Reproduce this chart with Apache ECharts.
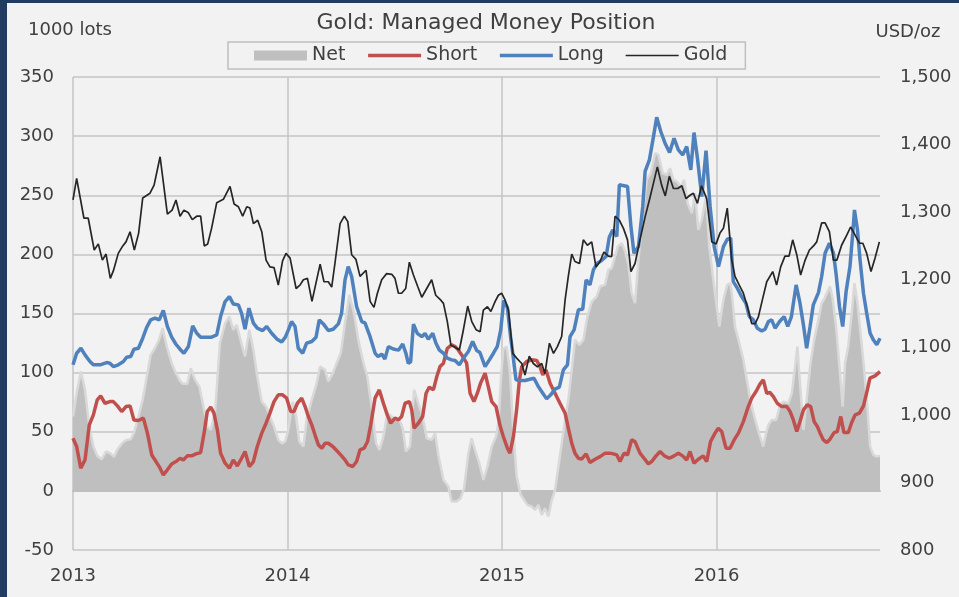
<!DOCTYPE html>
<html><head><meta charset="utf-8">
<script src="https://cdn.jsdelivr.net/npm/echarts@6/dist/echarts.min.js"></script>
<style>html,body{margin:0;padding:0;background:#f2f2f2}#c{width:959px;height:597px}</style>
</head><body><div id="c"></div><script>
// x = decimal year, value in 1000 lots (Net/Short/Long) or USD/oz (Gold)
const yearTicks = [2013, 2014, 2015, 2016];
const leftTicks = [-50, 0, 50, 100, 150, 200, 250, 300, 350];
const rightTicks = [800, 900, 1000, 1100, 1200, 1300, 1400, 1500];

const netData = [[2013.000,62.9],[2013.017,82.6],[2013.037,100.9],[2013.056,85.4],[2013.076,54.4],[2013.095,37.5],[2013.113,29.6],[2013.134,26.8],[2013.154,33.3],[2013.172,31.9],[2013.191,29.0],[2013.211,36.1],[2013.232,40.9],[2013.250,43.1],[2013.269,43.7],[2013.284,48.8],[2013.305,62.9],[2013.325,77.0],[2013.347,99.5],[2013.362,115.0],[2013.382,120.6],[2013.402,128.3],[2013.418,137.6],[2013.437,122.1],[2013.460,108.0],[2013.480,99.5],[2013.499,93.0],[2013.511,90.5],[2013.533,90.5],[2013.549,103.7],[2013.569,93.9],[2013.589,88.2],[2013.608,71.3],[2013.626,54.4],[2013.642,51.6],[2013.662,65.7],[2013.685,124.9],[2013.709,141.8],[2013.729,147.4],[2013.747,136.2],[2013.763,140.4],[2013.781,127.7],[2013.802,113.6],[2013.822,136.2],[2013.841,119.2],[2013.859,96.7],[2013.880,75.5],[2013.900,71.3],[2013.918,62.9],[2013.937,54.4],[2013.957,43.1],[2013.975,40.0],[2013.990,42.0],[2014.004,52.0],[2014.024,75.5],[2014.040,62.9],[2014.055,41.7],[2014.074,37.5],[2014.089,60.0],[2014.113,77.0],[2014.136,91.1],[2014.152,105.1],[2014.175,102.3],[2014.190,92.5],[2014.211,99.5],[2014.229,108.0],[2014.248,116.4],[2014.268,141.8],[2014.288,165.8],[2014.310,150.2],[2014.330,127.7],[2014.354,108.0],[2014.372,96.7],[2014.392,71.3],[2014.413,40.3],[2014.429,34.7],[2014.447,45.9],[2014.465,65.7],[2014.486,62.9],[2014.506,60.0],[2014.522,60.0],[2014.537,53.0],[2014.552,33.3],[2014.571,37.5],[2014.590,85.4],[2014.610,74.1],[2014.630,62.9],[2014.649,44.5],[2014.672,43.1],[2014.688,48.8],[2014.703,30.4],[2014.727,9.3],[2014.750,3.7],[2014.765,-9.0],[2014.789,-9.0],[2014.807,-6.2],[2014.823,2.3],[2014.843,31.9],[2014.858,44.5],[2014.874,34.7],[2014.894,23.4],[2014.913,9.3],[2014.932,20.6],[2014.952,37.5],[2014.972,45.9],[2014.985,60.0],[2014.995,95.0],[2015.006,120.0],[2015.022,122.0],[2015.037,100.0],[2015.053,48.8],[2015.068,12.1],[2015.087,-3.4],[2015.103,-7.6],[2015.118,-11.8],[2015.138,-13.2],[2015.154,-16.1],[2015.169,-11.8],[2015.185,-20.3],[2015.200,-14.7],[2015.216,-21.7],[2015.232,-7.6],[2015.247,0.8],[2015.263,20.6],[2015.278,40.3],[2015.294,60.0],[2015.309,77.0],[2015.325,102.3],[2015.340,127.7],[2015.361,123.5],[2015.379,127.7],[2015.398,147.4],[2015.418,160.1],[2015.441,164.3],[2015.457,172.8],[2015.480,174.2],[2015.496,186.9],[2015.511,188.3],[2015.527,198.2],[2015.540,206.6],[2015.558,209.4],[2015.574,202.4],[2015.589,191.1],[2015.604,167.2],[2015.620,158.7],[2015.636,195.4],[2015.656,234.8],[2015.675,263.0],[2015.693,268.6],[2015.714,285.6],[2015.729,284.1],[2015.749,268.6],[2015.768,267.2],[2015.783,272.9],[2015.799,263.0],[2015.815,261.6],[2015.834,257.4],[2015.849,263.0],[2015.865,243.3],[2015.885,234.8],[2015.900,251.7],[2015.915,220.7],[2015.931,229.2],[2015.951,248.9],[2015.966,206.6],[2015.985,178.4],[2016.001,155.9],[2016.013,139.0],[2016.032,161.5],[2016.050,174.2],[2016.063,175.6],[2016.071,167.2],[2016.086,139.0],[2016.106,124.9],[2016.125,110.8],[2016.141,93.9],[2016.159,75.5],[2016.180,60.0],[2016.200,47.4],[2016.218,37.5],[2016.231,48.8],[2016.242,55.8],[2016.257,60.0],[2016.278,60.0],[2016.294,71.3],[2016.312,75.5],[2016.335,74.1],[2016.351,82.6],[2016.366,105.1],[2016.377,122.1],[2016.389,91.1],[2016.405,51.6],[2016.420,77.0],[2016.436,105.1],[2016.455,127.7],[2016.475,144.6],[2016.490,158.7],[2016.500,161.5],[2016.514,167.2],[2016.529,172.8],[2016.541,162.9],[2016.557,139.0],[2016.573,105.1],[2016.588,71.3],[2016.599,108.0],[2016.614,122.1],[2016.630,150.2],[2016.643,175.6],[2016.657,158.7],[2016.671,133.3],[2016.687,105.1],[2016.703,71.3],[2016.716,37.5],[2016.731,30.4],[2016.747,29.0],[2016.762,29.6]];

const shortData = [[2013.000,44.5],[2013.017,37.5],[2013.036,19.2],[2013.056,26.2],[2013.076,55.8],[2013.095,64.3],[2013.113,77.0],[2013.129,80.3],[2013.149,74.1],[2013.172,75.5],[2013.188,75.5],[2013.207,71.9],[2013.227,67.1],[2013.247,71.3],[2013.266,71.9],[2013.284,60.0],[2013.305,59.5],[2013.328,61.5],[2013.347,48.8],[2013.367,30.4],[2013.387,24.8],[2013.406,19.2],[2013.421,13.5],[2013.440,17.8],[2013.460,22.8],[2013.480,24.8],[2013.499,27.6],[2013.514,26.2],[2013.533,29.6],[2013.553,29.6],[2013.573,31.3],[2013.595,32.4],[2013.611,48.8],[2013.626,67.1],[2013.642,70.8],[2013.657,65.7],[2013.673,51.6],[2013.688,31.9],[2013.709,23.4],[2013.729,19.2],[2013.747,26.2],[2013.766,21.1],[2013.786,27.6],[2013.802,33.3],[2013.822,20.6],[2013.841,24.8],[2013.859,37.5],[2013.880,48.8],[2013.900,57.2],[2013.918,65.7],[2013.937,75.5],[2013.957,81.2],[2013.977,81.2],[2013.996,78.4],[2014.015,67.1],[2014.030,67.1],[2014.046,74.1],[2014.066,78.4],[2014.082,71.3],[2014.097,62.9],[2014.113,55.8],[2014.128,47.4],[2014.144,38.9],[2014.160,36.1],[2014.175,40.3],[2014.190,40.3],[2014.211,37.5],[2014.229,34.1],[2014.248,30.4],[2014.268,26.2],[2014.283,22.0],[2014.304,20.6],[2014.322,24.8],[2014.338,34.7],[2014.357,36.1],[2014.373,41.7],[2014.388,55.8],[2014.408,78.4],[2014.428,85.4],[2014.447,74.1],[2014.465,64.3],[2014.481,57.2],[2014.501,61.5],[2014.517,60.0],[2014.532,62.9],[2014.548,74.1],[2014.568,75.5],[2014.579,68.5],[2014.590,53.0],[2014.610,57.2],[2014.630,62.9],[2014.646,82.6],[2014.661,87.7],[2014.680,85.4],[2014.696,96.7],[2014.711,105.1],[2014.727,108.0],[2014.745,120.6],[2014.765,123.5],[2014.781,122.1],[2014.796,119.2],[2014.812,115.0],[2014.835,108.0],[2014.851,82.6],[2014.869,75.5],[2014.885,82.6],[2014.900,91.1],[2014.921,99.5],[2014.936,88.2],[2014.952,75.5],[2014.972,71.3],[2014.991,55.0],[2015.006,46.0],[2015.025,36.1],[2015.037,31.9],[2015.053,45.9],[2015.068,68.5],[2015.081,93.9],[2015.092,105.1],[2015.115,109.4],[2015.138,110.8],[2015.162,110.2],[2015.177,105.1],[2015.190,98.1],[2015.205,102.3],[2015.224,91.1],[2015.247,82.6],[2015.270,74.1],[2015.294,65.7],[2015.309,53.0],[2015.325,40.3],[2015.340,31.9],[2015.356,27.6],[2015.371,26.8],[2015.392,31.3],[2015.410,24.0],[2015.434,26.8],[2015.457,29.0],[2015.481,31.9],[2015.504,31.9],[2015.519,31.3],[2015.535,30.4],[2015.550,24.8],[2015.569,31.9],[2015.585,30.4],[2015.604,43.1],[2015.620,41.7],[2015.643,31.9],[2015.662,27.6],[2015.682,22.8],[2015.698,24.8],[2015.718,29.6],[2015.737,33.3],[2015.757,29.6],[2015.780,27.6],[2015.802,29.6],[2015.822,31.9],[2015.842,29.6],[2015.861,26.2],[2015.876,33.3],[2015.895,23.4],[2015.915,26.8],[2015.938,29.6],[2015.954,24.8],[2015.972,41.7],[2015.993,48.8],[2016.008,53.0],[2016.024,50.2],[2016.044,36.1],[2016.063,36.1],[2016.082,43.1],[2016.102,48.8],[2016.125,58.6],[2016.148,71.3],[2016.164,78.4],[2016.184,84.0],[2016.203,90.5],[2016.218,93.9],[2016.234,82.6],[2016.249,83.2],[2016.265,79.8],[2016.283,74.1],[2016.304,71.3],[2016.327,71.3],[2016.343,67.1],[2016.358,60.0],[2016.374,50.2],[2016.389,58.6],[2016.405,68.5],[2016.423,72.7],[2016.439,71.3],[2016.455,58.6],[2016.470,54.4],[2016.483,48.8],[2016.498,43.1],[2016.514,40.9],[2016.529,43.7],[2016.548,49.3],[2016.563,50.2],[2016.579,62.9],[2016.594,49.3],[2016.614,49.3],[2016.630,57.8],[2016.646,64.3],[2016.666,65.7],[2016.685,71.9],[2016.703,85.4],[2016.715,95.3],[2016.739,97.3],[2016.762,100.9]];

const longData = [[2013.000,106.6],[2013.017,116.4],[2013.037,120.6],[2013.056,115.0],[2013.079,109.4],[2013.095,106.6],[2013.126,106.6],[2013.157,108.5],[2013.172,108.0],[2013.188,105.1],[2013.211,106.6],[2013.235,109.4],[2013.250,113.0],[2013.269,113.6],[2013.284,119.8],[2013.305,120.6],[2013.325,129.1],[2013.343,138.1],[2013.362,144.6],[2013.382,146.0],[2013.402,144.6],[2013.421,152.5],[2013.440,139.0],[2013.460,130.0],[2013.480,124.0],[2013.499,119.8],[2013.517,116.4],[2013.538,122.1],[2013.558,139.5],[2013.577,133.3],[2013.595,130.0],[2013.623,130.0],[2013.646,130.0],[2013.670,131.9],[2013.688,147.4],[2013.709,160.1],[2013.729,164.3],[2013.747,158.1],[2013.771,157.3],[2013.786,150.2],[2013.802,136.7],[2013.820,154.5],[2013.841,141.8],[2013.859,137.6],[2013.884,135.6],[2013.903,139.0],[2013.926,133.3],[2013.950,128.5],[2013.973,126.0],[2013.990,130.0],[2014.004,136.2],[2014.019,143.2],[2014.035,139.0],[2014.050,120.6],[2014.071,116.4],[2014.089,124.9],[2014.113,126.3],[2014.133,130.0],[2014.148,144.6],[2014.167,141.2],[2014.190,135.6],[2014.213,136.7],[2014.237,141.2],[2014.252,150.2],[2014.268,178.4],[2014.283,189.7],[2014.299,181.3],[2014.322,155.9],[2014.346,143.2],[2014.361,142.0],[2014.385,130.4],[2014.408,116.5],[2014.422,113.5],[2014.439,115.7],[2014.454,111.5],[2014.470,122.0],[2014.493,120.0],[2014.517,119.0],[2014.537,124.2],[2014.552,116.3],[2014.563,107.9],[2014.574,109.2],[2014.587,141.0],[2014.605,133.2],[2014.626,130.4],[2014.641,133.2],[2014.656,128.2],[2014.677,133.2],[2014.692,124.8],[2014.708,119.0],[2014.727,116.4],[2014.745,112.2],[2014.765,110.8],[2014.781,110.2],[2014.801,106.6],[2014.820,112.2],[2014.843,117.8],[2014.863,126.3],[2014.882,118.7],[2014.897,117.0],[2014.921,105.1],[2014.941,110.8],[2014.960,116.4],[2014.978,122.1],[2014.994,136.2],[2015.008,161.0],[2015.025,155.0],[2015.040,130.0],[2015.050,116.4],[2015.065,93.9],[2015.084,93.3],[2015.107,93.3],[2015.130,94.4],[2015.149,95.3],[2015.169,88.2],[2015.190,82.6],[2015.208,77.8],[2015.227,81.2],[2015.247,86.0],[2015.267,87.7],[2015.286,102.3],[2015.305,106.6],[2015.317,130.5],[2015.336,136.2],[2015.356,153.1],[2015.376,153.6],[2015.392,178.4],[2015.410,174.2],[2015.426,186.9],[2015.444,192.5],[2015.464,194.8],[2015.485,198.2],[2015.500,214.5],[2015.516,220.7],[2015.535,215.1],[2015.547,258.8],[2015.574,257.9],[2015.585,257.4],[2015.601,223.5],[2015.615,201.0],[2015.636,206.6],[2015.656,240.5],[2015.667,270.1],[2015.687,279.9],[2015.706,299.6],[2015.721,316.0],[2015.740,303.9],[2015.760,294.0],[2015.781,286.1],[2015.802,298.2],[2015.822,288.4],[2015.842,284.1],[2015.861,291.2],[2015.880,271.5],[2015.895,303.0],[2015.911,281.3],[2015.931,248.9],[2015.951,287.8],[2015.970,240.5],[2015.989,206.6],[2016.009,189.7],[2016.032,206.6],[2016.050,212.8],[2016.066,213.7],[2016.078,177.0],[2016.097,171.4],[2016.117,164.3],[2016.137,158.7],[2016.153,147.4],[2016.172,144.6],[2016.190,137.6],[2016.211,135.3],[2016.226,136.7],[2016.242,143.2],[2016.257,144.6],[2016.273,137.6],[2016.294,143.2],[2016.315,147.4],[2016.332,139.0],[2016.349,147.4],[2016.371,174.2],[2016.389,158.7],[2016.405,140.4],[2016.420,120.6],[2016.436,139.0],[2016.451,157.3],[2016.475,167.7],[2016.490,181.3],[2016.506,201.0],[2016.526,209.4],[2016.545,201.0],[2016.557,184.1],[2016.573,155.9],[2016.588,139.0],[2016.604,168.6],[2016.622,189.7],[2016.635,217.9],[2016.643,237.6],[2016.657,220.7],[2016.669,195.4],[2016.685,167.2],[2016.700,150.2],[2016.716,133.3],[2016.731,127.7],[2016.747,123.5],[2016.762,129.1]];

const goldData = [[2013.000,1318],[2013.017,1350],[2013.051,1291],[2013.071,1291],[2013.099,1244],[2013.118,1253],[2013.137,1229],[2013.154,1238],[2013.174,1202],[2013.188,1213],[2013.211,1239],[2013.232,1250],[2013.247,1256],[2013.266,1271],[2013.286,1244],[2013.306,1269],[2013.325,1321],[2013.359,1328],[2013.378,1340],[2013.406,1382],[2013.440,1297],[2013.462,1303],[2013.480,1318],[2013.499,1294],[2013.517,1303],[2013.538,1299],[2013.556,1289],[2013.577,1294],[2013.595,1294],[2013.612,1250],[2013.628,1253],[2013.646,1276],[2013.670,1314],[2013.701,1319],[2013.732,1338],[2013.751,1312],[2013.771,1308],[2013.791,1294],[2013.810,1308],[2013.825,1306],[2013.841,1283],[2013.861,1288],[2013.880,1271],[2013.900,1229],[2013.918,1219],[2013.937,1218],[2013.957,1192],[2013.977,1228],[2013.993,1239],[2014.012,1232],[2014.040,1187],[2014.058,1192],[2014.074,1200],[2014.093,1202],[2014.114,1168],[2014.152,1223],[2014.170,1197],[2014.190,1197],[2014.206,1189],[2014.221,1224],[2014.245,1283],[2014.265,1294],[2014.281,1286],[2014.299,1237],[2014.319,1230],[2014.338,1205],[2014.366,1214],[2014.385,1168],[2014.403,1159],[2014.419,1180],[2014.439,1200],[2014.462,1209],[2014.486,1208],[2014.501,1202],[2014.517,1180],[2014.532,1180],[2014.551,1187],[2014.568,1226],[2014.587,1207],[2014.607,1190],[2014.626,1174],[2014.649,1187],[2014.672,1200],[2014.691,1177],[2014.711,1171],[2014.727,1165],[2014.745,1138],[2014.762,1103],[2014.781,1100],[2014.801,1096],[2014.820,1126],[2014.840,1161],[2014.859,1138],[2014.879,1126],[2014.898,1123],[2014.913,1155],[2014.932,1160],[2014.948,1153],[2014.968,1168],[2014.983,1177],[2014.998,1180],[2015.014,1170],[2015.030,1155],[2015.050,1091],[2015.068,1084],[2015.092,1076],[2015.107,1059],[2015.127,1087],[2015.146,1076],[2015.165,1071],[2015.185,1076],[2015.200,1061],[2015.221,1106],[2015.240,1091],[2015.258,1101],[2015.278,1116],[2015.294,1170],[2015.309,1205],[2015.325,1238],[2015.340,1227],[2015.361,1224],[2015.379,1259],[2015.398,1251],[2015.418,1256],[2015.438,1219],[2015.457,1227],[2015.475,1241],[2015.496,1235],[2015.511,1234],[2015.527,1294],[2015.547,1288],[2015.566,1276],[2015.585,1259],[2015.601,1212],[2015.620,1224],[2015.643,1259],[2015.667,1293],[2015.687,1318],[2015.706,1343],[2015.724,1367],[2015.744,1340],[2015.761,1324],[2015.780,1353],[2015.799,1335],[2015.819,1335],[2015.838,1339],[2015.858,1320],[2015.876,1325],[2015.892,1328],[2015.911,1313],[2015.930,1339],[2015.954,1320],[2015.978,1256],[2015.998,1253],[2016.016,1269],[2016.032,1276],[2016.050,1306],[2016.071,1229],[2016.086,1205],[2016.106,1192],[2016.125,1180],[2016.144,1160],[2016.164,1135],[2016.180,1135],[2016.195,1145],[2016.215,1172],[2016.234,1197],[2016.262,1212],[2016.280,1192],[2016.299,1219],[2016.319,1235],[2016.338,1235],[2016.355,1259],[2016.374,1237],[2016.392,1207],[2016.413,1229],[2016.433,1244],[2016.452,1250],[2016.467,1256],[2016.490,1284],[2016.506,1284],[2016.526,1271],[2016.545,1229],[2016.561,1229],[2016.583,1251],[2016.607,1266],[2016.625,1278],[2016.646,1266],[2016.666,1254],[2016.682,1254],[2016.700,1239],[2016.720,1212],[2016.739,1232],[2016.759,1256]];

const FONT = "'DejaVu Sans', Verdana, sans-serif";
const TXT = '#404040';
const chart = echarts.init(document.getElementById('c'), null, {renderer: 'canvas'});
chart.setOption({
  animation: false,
  backgroundColor: '#f2f2f2',
  textStyle: {fontFamily: FONT},
  graphic: [
    {type: 'rect', shape: {x: 0, y: 0, width: 7, height: 597}, style: {fill: '#203c61'}, silent: true},
    {type: 'rect', shape: {x: 0, y: 0, width: 959, height: 3}, style: {fill: '#203c61'}, silent: true},
    {type: 'text', x: 486, y: 23.5, style: {text: 'Gold: Managed Money Position', fill: TXT, font: "22px 'DejaVu Sans', Verdana, sans-serif", align: 'center', verticalAlign: 'middle'}},
    {type: 'text', x: 28, y: 30, style: {text: '1000 lots', fill: TXT, font: "18px 'DejaVu Sans', Verdana, sans-serif", align: 'left', verticalAlign: 'middle'}},
    {type: 'text', x: 908, y: 32, style: {text: 'USD/oz', fill: TXT, font: "18px 'DejaVu Sans', Verdana, sans-serif", align: 'center', verticalAlign: 'middle'}}
  ],
  legend: {
    left: 228, top: 42,
    padding: [4, 18, 4, 26],
    borderColor: '#bfbfbf', borderWidth: 1.5,
    itemWidth: 53, itemHeight: 10, itemGap: 21,
    textStyle: {fontSize: 19, color: TXT, fontFamily: FONT},
    data: [
      {name: 'Net', icon: 'rect', itemStyle: {color: '#bfbfbf', borderWidth: 0}},
      {name: 'Short', itemStyle: {opacity: 0}, lineStyle: {width: 3.5}},
      {name: 'Long', itemStyle: {opacity: 0}, lineStyle: {width: 3.5}},
      {name: 'Gold', itemStyle: {opacity: 0}, lineStyle: {width: 1.7}}
    ]
  },
  grid: {left: 73, right: 79, top: 77, bottom: 47, containLabel: false},
  xAxis: {
    type: 'value', min: yearTicks[0], max: 2016.762, interval: 1,
    axisLine: {show: true, lineStyle: {color: '#bfbfbf', width: 2}},
    axisTick: {show: false},
    axisLabel: {color: TXT, fontSize: 18, fontFamily: FONT, margin: 17, showMaxLabel: false,
      formatter: v => yearTicks.includes(v) ? String(v) : ''},
    splitLine: {show: true, showMaxLine: false, lineStyle: {color: '#c4c4c4', width: 1.5}}
  },
  yAxis: [
    {type: 'value', min: leftTicks[0], max: leftTicks[leftTicks.length - 1], interval: 50,
      axisLine: {show: false}, axisTick: {show: false},
      axisLabel: {color: TXT, fontSize: 18, fontFamily: FONT, margin: 19},
      splitLine: {show: true, lineStyle: {color: '#c4c4c4', width: 1.5}}},
    {type: 'value', min: rightTicks[0], max: rightTicks[rightTicks.length - 1], interval: 100,
      position: 'right',
      axisLine: {show: false}, axisTick: {show: false},
      axisLabel: {color: TXT, fontSize: 18, fontFamily: FONT, margin: 20,
        formatter: v => v.toLocaleString('en-US')},
      splitLine: {show: false}}
  ],
  series: [
    {name: 'Net', type: 'line', data: netData, yAxisIndex: 0, symbol: 'none', showSymbol: false,
      itemStyle: {color: '#bfbfbf'},
      lineStyle: {color: '#d9d9d9', width: 2.5},
      areaStyle: {color: '#bfbfbf', opacity: 1}, z: 1},
    {name: 'Short', type: 'line', data: shortData, yAxisIndex: 0, symbol: 'none', showSymbol: false,
      itemStyle: {color: '#c0504d'}, lineStyle: {color: '#c0504d', width: 3.5}, z: 2},
    {name: 'Long', type: 'line', data: longData, yAxisIndex: 0, symbol: 'none', showSymbol: false,
      itemStyle: {color: '#4f81bd'}, lineStyle: {color: '#4f81bd', width: 3.5}, z: 3},
    {name: 'Gold', type: 'line', data: goldData, yAxisIndex: 1, symbol: 'none', showSymbol: false,
      itemStyle: {color: '#262626'}, lineStyle: {color: '#262626', width: 1.7}, z: 4}
  ]
});
</script></body></html>
